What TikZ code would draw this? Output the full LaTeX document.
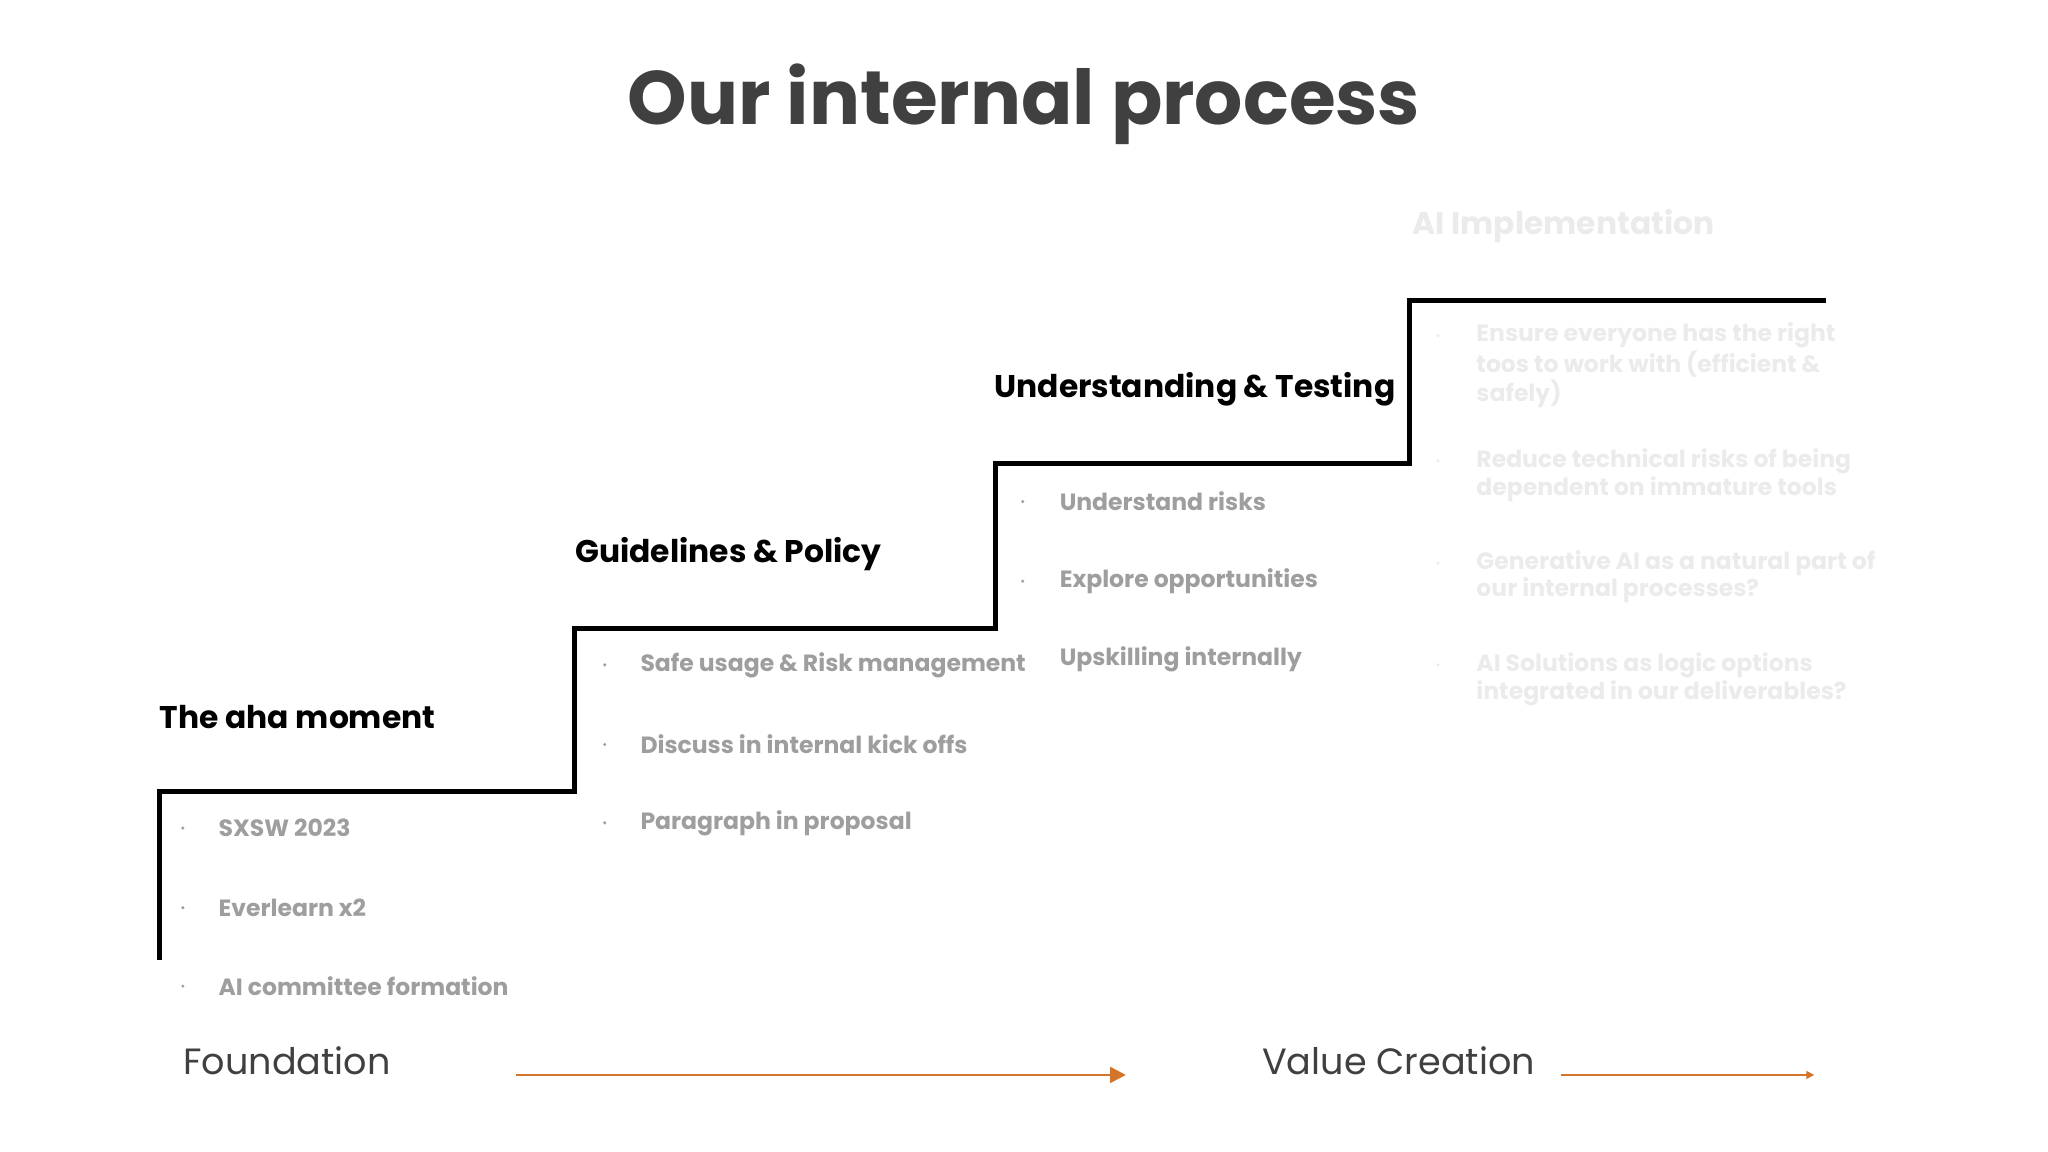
\documentclass[tikz,border=0pt]{standalone}
\usepackage{fontspec}
\setmainfont{Poppins}
\usetikzlibrary{arrows.meta}
\definecolor{titlegray}{HTML}{404040}
\definecolor{itemgray}{HTML}{9E9E9E}
\definecolor{faint}{HTML}{EBEBEB}
\definecolor{orng}{HTML}{D2742A}
\tikzset{
  head/.style={anchor=west,inner sep=0pt,font=\fontsize{12}{14}\selectfont\bfseries,text=black},
  item/.style={anchor=west,inner sep=0pt,font=\fontsize{9}{10.5}\selectfont\bfseries,text=itemgray},
  fitem/.style={anchor=north west,inner sep=0pt,font=\fontsize{9}{9.3}\selectfont\bfseries,text=faint,align=left},
  dotb/.style={circle,fill=#1,inner sep=0pt,minimum size=1.3pt},
  foot/.style={anchor=west,inner sep=0pt,font=\fontsize{14}{16}\selectfont,text=titlegray},
}
\begin{document}
\begin{tikzpicture}[x=0.5pt,y=-0.5pt]
\useasboundingbox[fill=white] (0,0) rectangle (1568,882);
\node[inner sep=0pt,font=\fontsize{29}{32}\selectfont\bfseries,text=titlegray] (title) at (784,80) {Our internal process};
% staircase
\coordinate (s0) at (122,735);
\coordinate (s1) at (122,606);
\coordinate (s2) at (440,606);
\coordinate (s3) at (440,481);
\coordinate (s4) at (762,481);
\coordinate (s5) at (762,355);
\coordinate (s6) at (1079,355);
\coordinate (s7) at (1079,230);
\coordinate (s8) at (1398,230);
\draw[line width=2pt] (s0) -- (s1) -- (s2) -- (s3) -- (s4) -- (s5) -- (s6) -- (s7) -- (s8);
% headings
\node[head] (h1) at (122,549) {The aha moment};
\node[head] (h2) at (440,424) {Guidelines \& Policy};
\node[head] (h3) at (761,298) {Understanding \& Testing};
\node[head,text=faint] (h4) at (1081,173) {AI Implementation};
% step 1
\node[dotb=itemgray] (d11) at (140,634) {}; \node[item] (i11) at (167,634) {SXSW 2023};
\node[dotb=itemgray] (d12) at (140,695) {}; \node[item] (i12) at (167,695) {Everlearn x2};
\node[dotb=itemgray] (d13) at (140,755) {}; \node[item] (i13) at (167,755) {AI committee formation};
% step 2
\node[dotb=itemgray] (d21) at (463,509) {}; \node[item] (i21) at (490,509) {Safe usage \& Risk management};
\node[dotb=itemgray] (d22) at (463,570) {}; \node[item] (i22) at (490,570) {Discuss in internal kick offs};
\node[dotb=itemgray] (d23) at (463,630) {}; \node[item] (i23) at (490,630) {Paragraph in proposal};
% step 3
\node[dotb=itemgray] (d31) at (783,384) {}; \node[item] (i31) at (811,384) {Understand risks};
\node[dotb=itemgray] (d32) at (783,445) {}; \node[item] (i32) at (811,445) {Explore opportunities};
\node[dotb=itemgray] (d33) at (783,505) {}; \node[item] (i33) at (811,505) {Upskilling internally};
% step 4
\node[dotb=faint] (d41) at (1101,257) {}; \node[fitem] (i41) at (1130,247) {Ensure everyone has the right\\toos to work with (efficient \&\\safely)};
\node[dotb=faint] (d42) at (1101,353) {}; \node[fitem] (i42) at (1130,343) {Reduce technical risks of being\\dependent on immature tools};
\node[dotb=faint] (d43) at (1101,431) {}; \node[fitem] (i43) at (1130,421) {Generative AI as a natural part of\\our internal processes?};
\node[dotb=faint] (d44) at (1101,509) {}; \node[fitem] (i44) at (1130,499) {AI Solutions as logic options\\integrated in our deliverables?};
% footer
\node[foot] (f1) at (140,812) {Foundation};
\node[foot] (f2) at (966,812) {Value Creation};
\coordinate (a1s) at (395,823); \coordinate (a1e) at (862,823);
\coordinate (a2s) at (1195,823); \coordinate (a2e) at (1389,823);
\draw[orng,line width=1pt,-{Triangle[length=6pt,width=6pt]}] (a1s) -- (a1e);
\draw[orng,line width=0.5pt,-{Triangle[length=3pt,width=3pt]}] (a2s) -- (a2e);
\end{tikzpicture}
\end{document}
